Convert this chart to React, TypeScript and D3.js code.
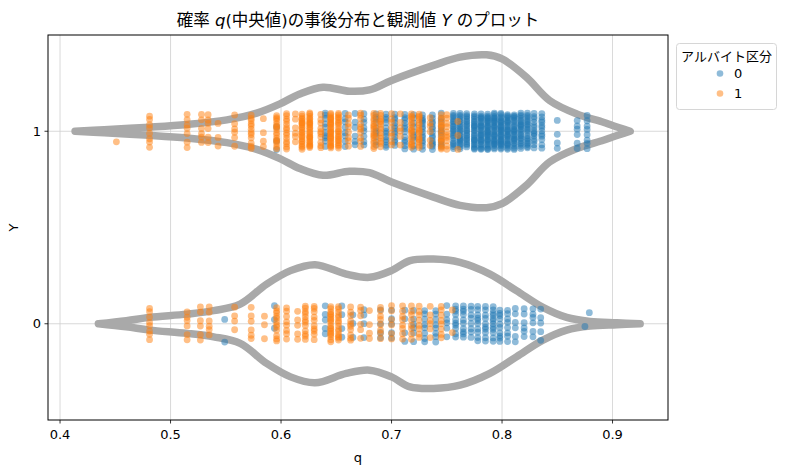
import React from 'react';
import * as d3 from 'd3';

// axis ticks
const qTicks = [0.4, 0.5, 0.6, 0.7, 0.8, 0.9];
const yCategories = [0, 1];
const hueLabels = ['0', '1'];

// violin outlines (q position, half-width in Y units)
const violinY1Q = [0.4136, 0.44, 0.481, 0.515, 0.551, 0.578, 0.599, 0.617, 0.638, 0.662, 0.68, 0.70, 0.738, 0.762, 0.786, 0.80, 0.822, 0.843, 0.8676, 0.8917, 0.90, 0.916];
const violinY1W = [0, 0.008, 0.021, 0.035, 0.059, 0.094, 0.142, 0.194, 0.229, 0.208, 0.215, 0.264, 0.342, 0.385, 0.397, 0.376, 0.281, 0.160, 0.090, 0.047, 0.030, 0];
const violinY0Q = [0.4347, 0.46, 0.481, 0.5147, 0.539, 0.563, 0.587, 0.6086, 0.6308, 0.659, 0.680, 0.70, 0.7167, 0.738, 0.762, 0.789, 0.813, 0.837, 0.8585, 0.8796, 0.904, 0.925];
const violinY0W = [0, 0.016, 0.033, 0.050, 0.068, 0.102, 0.206, 0.276, 0.307, 0.258, 0.241, 0.276, 0.328, 0.336, 0.319, 0.258, 0.172, 0.085, 0.033, 0.012, 0.005, 0];

// strip points: q columns and number of points per column
const y1Hue1Q = [0.451, 0.481, 0.515, 0.528, 0.534, 0.543, 0.558, 0.573, 0.584, 0.596, 0.605, 0.613, 0.619, 0.626, 0.636, 0.645, 0.652, 0.661, 0.672, 0.684, 0.69, 0.70, 0.708, 0.718, 0.725, 0.735, 0.745, 0.75, 0.76];
const y1Hue1N = [1, 8, 7, 6, 6, 3, 6, 12, 4, 16, 14, 6, 22, 24, 10, 26, 20, 8, 10, 16, 14, 8, 6, 16, 16, 6, 16, 10, 3];
const y1Hue0Q = [0.596, 0.64, 0.658, 0.667, 0.675, 0.686, 0.695, 0.703, 0.712, 0.72, 0.728, 0.737, 0.745, 0.756, 0.762, 0.768, 0.775, 0.781, 0.787, 0.793, 0.799, 0.805, 0.811, 0.817, 0.823, 0.829, 0.836, 0.85, 0.868, 0.877];
const y1Hue0N = [3, 10, 8, 6, 8, 10, 12, 12, 12, 10, 14, 14, 10, 20, 22, 20, 24, 26, 28, 28, 28, 26, 24, 22, 20, 14, 12, 4, 6, 8];
const y0Hue1Q = [0.481, 0.515, 0.527, 0.535, 0.558, 0.573, 0.585, 0.596, 0.605, 0.615, 0.622, 0.63, 0.645, 0.652, 0.663, 0.672, 0.68, 0.69, 0.70, 0.71, 0.718, 0.725, 0.735, 0.745, 0.755];
const y0Hue1N = [8, 6, 6, 6, 4, 6, 3, 12, 8, 5, 12, 10, 18, 14, 10, 6, 4, 8, 6, 8, 8, 8, 6, 8, 2];
const y0Hue0Q = [0.549, 0.594, 0.64, 0.655, 0.665, 0.675, 0.69, 0.70, 0.712, 0.72, 0.73, 0.74, 0.75, 0.758, 0.765, 0.772, 0.778, 0.785, 0.792, 0.798, 0.805, 0.812, 0.82, 0.828, 0.835, 0.875, 0.879];
const y0Hue0N = [2, 3, 5, 4, 3, 4, 4, 5, 4, 6, 8, 8, 6, 10, 10, 8, 10, 10, 12, 10, 8, 6, 6, 6, 5, 1, 1];

const W = 794;
const H = 473;
const M = { left: 48, right: 668, top: 35, bottom: 420 };
const FONT = "'DejaVu Sans', 'Noto Sans CJK JP', sans-serif";
const COLORS = ['#1f77b4', '#ff7f0e'];

const App: React.FC = () => {
  const x = d3.scaleLinear().domain([0.3891, 0.9502]).range([M.left, M.right]);
  const y = d3.scaleLinear().domain([-0.5, 1.5]).range([M.bottom, M.top]);
  const wPx = (w: number) => y(0) - y(w);

  const violins = [
    { cat: 1, q: violinY1Q, w: violinY1W },
    { cat: 0, q: violinY0Q, w: violinY0W },
  ];

  const violinPath = (v: { cat: number; q: number[]; w: number[] }) => {
    const pts = v.q.map((q, i) => ({ q, w: v.w[i] }));
    const area = d3.area<{ q: number; w: number }>()
      .x((d) => x(d.q))
      .y0((d) => y(v.cat) - wPx(d.w))
      .y1((d) => y(v.cat) + wPx(d.w))
      .curve(d3.curveCatmullRom.alpha(0.5));
    return area(pts) as string;
  };

  const groups = [
    { cat: 1, hue: 0, q: y1Hue0Q, n: y1Hue0N },
    { cat: 1, hue: 1, q: y1Hue1Q, n: y1Hue1N },
    { cat: 0, hue: 0, q: y0Hue0Q, n: y0Hue0N },
    { cat: 0, hue: 1, q: y0Hue1Q, n: y0Hue1N },
  ];

  // stripplot-style jitter (deterministic spread within +-0.1)
  const points: { cx: number; cy: number; hue: number }[] = [];
  groups.forEach((g) => {
    g.q.forEach((q, i) => {
      for (let k = 0; k < g.n[i]; k++) {
        const u = (k * 0.618034 + i * 0.377 + g.hue * 0.21) % 1;
        points.push({ cx: x(q), cy: y(g.cat + (u - 0.5) * 0.19), hue: g.hue });
      }
    });
  });

  return (
    <svg width={W} height={H} style={{ position: 'absolute', left: 0, top: 0, background: '#fff' }} fontFamily={FONT}>
      <rect x={0} y={0} width={W} height={H} fill="#fff" />
      {/* grid */}
      {qTicks.map((t) => (
        <line key={'gx' + t} x1={x(t)} x2={x(t)} y1={M.top} y2={M.bottom} stroke="#cfcfcf" strokeWidth={0.8} />
      ))}
      {yCategories.map((c) => (
        <line key={'gy' + c} x1={M.left} x2={M.right} y1={y(c)} y2={y(c)} stroke="#cfcfcf" strokeWidth={0.8} />
      ))}
      {/* violins */}
      {violins.map((v) => (
        <path key={'v' + v.cat} d={violinPath(v)} fill="none" stroke="#a9a9a9" strokeWidth={7.5}
          strokeLinejoin="round" strokeLinecap="round" />
      ))}
      {/* points */}
      {points.map((p, i) => (
        <circle key={i} cx={p.cx} cy={p.cy} r={3.4} fill={COLORS[p.hue]} fillOpacity={0.5} />
      ))}
      {/* frame */}
      <rect x={M.left} y={M.top} width={M.right - M.left} height={M.bottom - M.top} fill="none" stroke="#000" strokeWidth={1} />
      {/* x ticks */}
      {qTicks.map((t) => (
        <g key={'tx' + t}>
          <line x1={x(t)} x2={x(t)} y1={M.bottom} y2={M.bottom + 3.5} stroke="#000" strokeWidth={0.8} />
          <text x={x(t)} y={M.bottom + 19} textAnchor="middle" fontSize={13} fill="#000">{d3.format('.1f')(t)}</text>
        </g>
      ))}
      {yCategories.map((c) => (
        <g key={'ty' + c}>
          <line x1={M.left - 3.5} x2={M.left} y1={y(c)} y2={y(c)} stroke="#000" strokeWidth={0.8} />
          <text x={M.left - 7} y={y(c) + 4.5} textAnchor="end" fontSize={13} fill="#000">{c}</text>
        </g>
      ))}
      {/* axis labels */}
      <text x={(M.left + M.right) / 2} y={462} textAnchor="middle" fontSize={13} fill="#000">q</text>
      <text transform={`translate(18,${(M.top + M.bottom) / 2}) rotate(-90)`} textAnchor="middle" fontSize={13} fill="#000">Y</text>
      {/* title */}
      <text x={(M.left + M.right) / 2} y={26} textAnchor="middle" fontSize={16.5} fill="#000">
        確率 <tspan fontStyle="italic">q</tspan>(中央値)の事後分布と観測値 <tspan fontStyle="italic">Y</tspan> のプロット
      </text>
      {/* legend */}
      <g>
        <rect x={676.5} y={43.5} width={100} height={66} rx={3} fill="#fff" fillOpacity={0.8} stroke="#d6d6d6" strokeWidth={1} />
        <text x={726.5} y={61} textAnchor="middle" fontSize={13} fill="#000">アルバイト区分</text>
        {hueLabels.map((h, i) => (
          <g key={'lg' + h}>
            <circle cx={720} cy={73.5 + i * 20} r={3.3} fill={COLORS[i]} fillOpacity={0.5} />
            <text x={734} y={78 + i * 20} fontSize={13} fill="#000">{h}</text>
          </g>
        ))}
      </g>
    </svg>
  );
};

export default App;
